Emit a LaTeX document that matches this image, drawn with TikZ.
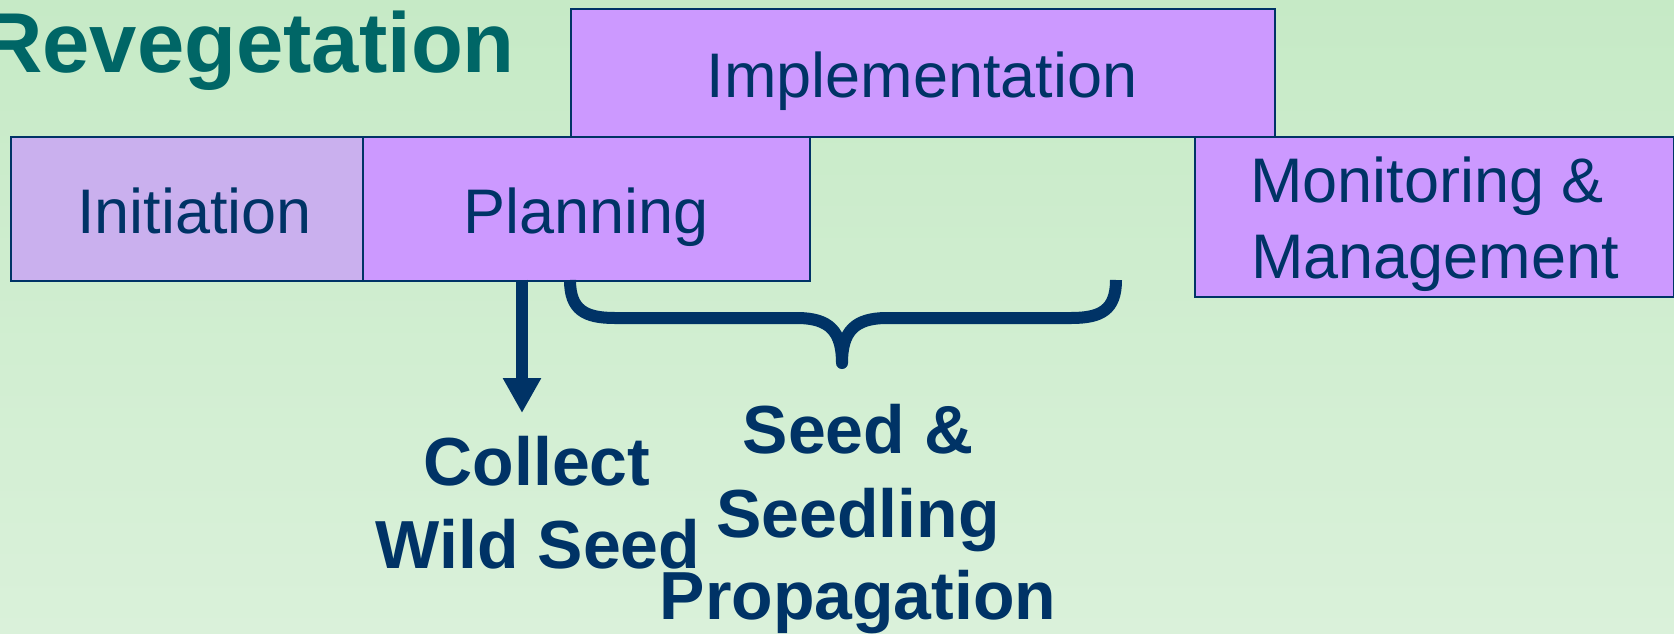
\documentclass[tikz,border=0pt]{standalone}
\usepackage{fontspec}
\setmainfont{Liberation Sans}
\usetikzlibrary{arrows.meta}
\definecolor{bgtop}{RGB}{198,234,198}
\definecolor{bgbot}{RGB}{218,241,218}
\definecolor{lilac}{RGB}{204,153,255}
\definecolor{lilacpale}{RGB}{202,176,238}
\definecolor{navyblue}{RGB}{0,51,102}
\definecolor{titleteal}{RGB}{0,102,102}
\begin{document}
\begin{tikzpicture}[x=1pt,y=-1pt,
  box/.style={draw=navyblue, line width=2pt, inner sep=0pt, anchor=north west},
  boxtext/.style={text=navyblue, font=\fontsize{63}{76}\selectfont, anchor=base, inner sep=0pt},
  bigtext/.style={text=navyblue, font=\bfseries\fontsize{68}{83}\selectfont, anchor=base, inner sep=0pt},
  titletext/.style={text=titleteal, font=\bfseries\fontsize{85}{100}\selectfont, anchor=base west, inner sep=0pt},
  connector/.style={draw=navyblue, line width=12pt, line join=round}]
\useasboundingbox (0,0) rectangle (1674,633);
\shade[top color=bgtop, bottom color=bgbot] (0,0) rectangle (1674,633);

\node[titletext] (title) at (-19,72) {Revegetation};

\node[box, fill=lilac, minimum width=704pt, minimum height=128pt] (impl) at (570,7.5) {};
\node[box, fill=lilacpale, minimum width=352.4pt, minimum height=144.1pt] (init) at (9.6,135.6) {};
\node[box, fill=lilac, minimum width=447pt, minimum height=144.1pt] (plan) at (362,135.6) {};
\node[box, fill=lilac, minimum width=479.4pt, minimum height=160.1pt] (mon) at (1193.6,135.6) {};

\node[boxtext] (timpl) at (922,97) {Implementation};
\node[boxtext] (tinit) at (194.5,233) {Initiation};
\node[boxtext] (tplan) at (586,233) {Planning};
\node[boxtext] (tmon1) at (1427,202) {Monitoring \&};
\node[boxtext] (tmon2) at (1435,278) {Management};

% arrow to Collect Wild Seed
\coordinate (arrtop) at (522,279.7);
\coordinate (arrtip) at (522,413);
\draw[connector, -{Triangle[width=36pt,length=35pt]}] (arrtop) -- (arrtip);

% brace
\coordinate (bl) at (570,280);
\coordinate (br) at (1116,280);
\coordinate (btip) at (842,363);
\draw[connector] (bl) .. controls (570,310) and (585,318) .. (615,318)
  -- (797,318) .. controls (830,318) and (842,332) .. (btip)
  .. controls (842,332) and (854,318) .. (887,318)
  -- (1071,318) .. controls (1101,318) and (1116,310) .. (br);

\node[bigtext] (collect1) at (537,485) {Collect};
\node[bigtext] (collect2) at (538,568) {Wild Seed};
\node[bigtext] (seed1) at (858,453) {Seed \&};
\node[bigtext] (seed2) at (858,537) {Seedling};
\node[bigtext] (seed3) at (858,619) {Propagation};
\end{tikzpicture}
\end{document}
